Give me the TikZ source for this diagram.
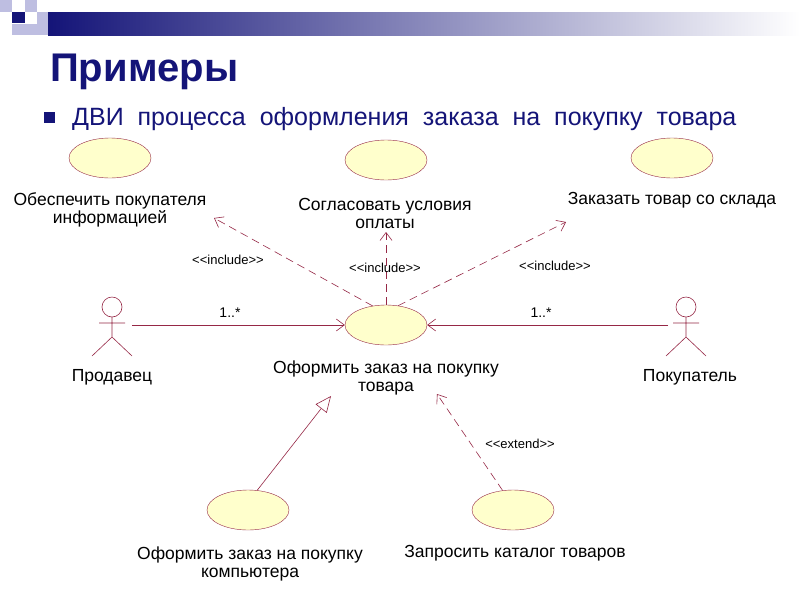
\documentclass[tikz,border=0pt]{standalone}
\usepackage{fontspec}
\setmainfont{Liberation Sans}
\usetikzlibrary{arrows.meta,shapes.geometric}
\definecolor{navy}{RGB}{20,20,120}
\definecolor{uml}{RGB}{150,40,70}
\definecolor{ufill}{RGB}{255,255,204}
\definecolor{lav}{RGB}{190,190,225}
\begin{document}
\begin{tikzpicture}[x=1pt,y=-1pt,
 uc/.style={ellipse,draw=uml,fill=ufill,minimum width=82pt,minimum height=40pt,inner sep=0pt},
 lbl/.style={font=\fontsize{17.5}{18}\selectfont,align=center,text=black},
 st/.style={font=\fontsize{13}{14}\selectfont,text=black},
 ln/.style={draw=uml,line width=0.6pt},
 asc/.style={ln,-{Straight Barb[length=8pt,width=12pt]}},
 dep/.style={ln,dashed,dash pattern=on 8pt off 5pt,-{Straight Barb[length=8pt,width=12pt]}},
 gen/.style={ln,-{Triangle[open,length=16pt,width=14pt,fill=white]}}]
\useasboundingbox (0,0) rectangle (800,600);
\fill[white] (0,0) rectangle (800,600);
% header decoration
\shade[left color=navy,right color=white] (48,12) rectangle (800,35);
\fill[lav] (0,0) rectangle (12,12);
\fill[lav] (25,0) rectangle (37,12);
\fill[lav] (37,12) rectangle (48,35);
\fill[lav] (25,24) rectangle (37,35);
\fill[lav] (12,24) rectangle (25,35);
\fill[navy] (12,12) rectangle (25,23);
\node[anchor=base west,text=navy,font=\fontsize{40}{42}\selectfont\bfseries,inner sep=0pt] (title) at (50,81) {Примеры};
\fill[navy] (44,112) rectangle (55,123);
\node[anchor=base west,text=navy,font=\fontsize{25}{27}\selectfont,inner sep=0pt] (sub) at (72,125) {ДВИ\ \ процесса\ \ оформления\ \ заказа\ \ на\ \ покупку\ \ товара};
% use cases
\node[uc] (u1) at (110,158) {};
\node[uc] (u2) at (386,160) {};
\node[uc] (u3) at (672,158) {};
\node[uc] (uc) at (386,325) {};
\node[uc] (u4) at (248,510) {};
\node[uc] (u5) at (513,510) {};
\node[lbl] (l1) at (110,210) {Обеспечить покупателя\\информацией};
\node[lbl] (l2) at (385,213) {Согласовать условия\\оплаты};
\node[lbl] (l3) at (672,200) {Заказать товар со склада};
\node[lbl] (lc) at (386,378) {Оформить заказ на покупку\\товара};
\node[lbl] (l4) at (250,564) {Оформить заказ на покупку\\компьютера};
\node[lbl] (l5) at (515,553) {Запросить каталог товаров};
% actors
\foreach \n/\x in {a1/112,a2/686}{
 \draw[ln] (\x,307) circle (10);
 \draw[ln] (\x,317) -- (\x,337) (\x-13,323) -- (\x+13,323) (\x-20,356) -- (\x,337) -- (\x+20,356);
 \coordinate (\n) at (\x,325);
}
\node[lbl] (n1) at (112,377) {Продавец};
\node[lbl] (n2) at (690,377) {Покупатель};
\coordinate (s1) at (132,325);
\coordinate (s2) at (668,325);
\draw[asc] (s1) -- (uc.west);
\draw[asc] (s2) -- (uc.east);
\node[st,font=\fontsize{14}{15}\selectfont] (m1) at (230,313) {1..*};
\node[st,font=\fontsize{14}{15}\selectfont] (m2) at (541,313) {1..*};
% includes
\coordinate (t1) at (214,218);
\coordinate (t2) at (386,232);
\coordinate (t3) at (566,222);
\draw[dep] (uc.125) -- (t1);
\draw[dep] (uc.north) -- (t2);
\draw[dep] (uc.58) -- (t3);
\node[st] (i1) at (228,260) {{<}{<}include{>}{>}};
\node[st] (i2) at (385,268) {{<}{<}include{>}{>}};
\node[st] (i3) at (555,266) {{<}{<}include{>}{>}};
% extend & generalization
\coordinate (t4) at (437,394);
\coordinate (t5) at (331,396);
\draw[dep] (u5.118) -- (t4);
\draw[gen] (u4.65) -- (t5);
\node[st] (e1) at (520,444) {{<}{<}extend{>}{>}};
\end{tikzpicture}
\end{document}
